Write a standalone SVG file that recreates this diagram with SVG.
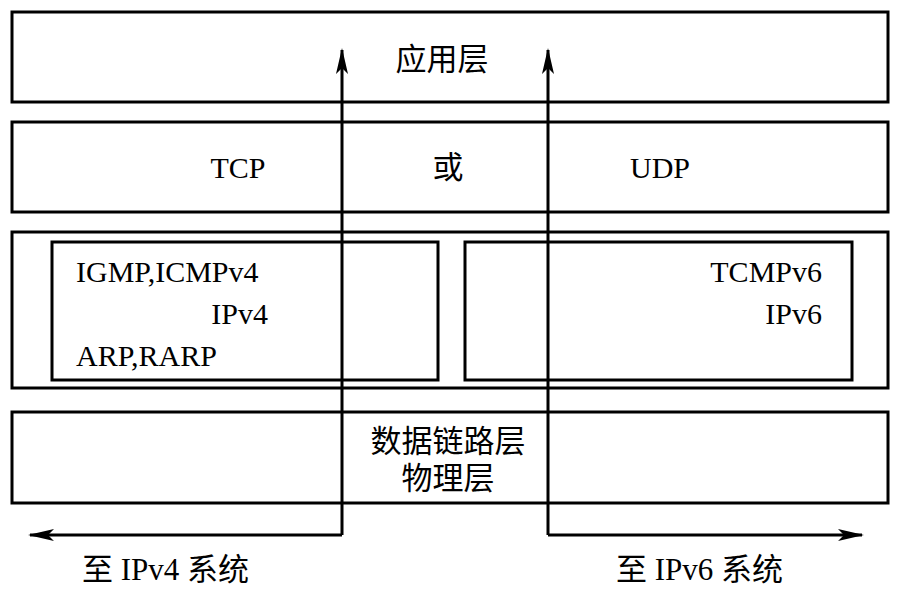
<svg xmlns="http://www.w3.org/2000/svg" width="900" height="598" viewBox="0 0 900 598">
<style>
.box{fill:none;stroke:#000;stroke-width:3}
.t{font-family:"Liberation Serif","Times New Roman","DejaVu Serif",serif;font-size:30px;fill:#000}
.c{font-family:"Liberation Serif","DejaVu Serif","Noto Sans CJK SC",serif;font-size:31px;fill:#000}
.ln{fill:none;stroke:#000;stroke-width:3}
</style>
<defs>
<marker id="ah" viewBox="0 0 26 12" refX="24" refY="6" markerWidth="26" markerHeight="12" markerUnits="userSpaceOnUse" orient="auto">
<path d="M0,0 L26,6 L0,12 L6,6 Z" fill="#000"/>
</marker>
</defs>
<rect width="900" height="598" fill="#fff"/>
<g id="app"><rect class="box" x="12" y="12" width="876" height="90"/><text class="c" x="442" y="70" text-anchor="middle">应用层</text></g>
<g id="transport"><rect class="box" x="12" y="122" width="876" height="90"/>
<text class="t" x="238" y="178" text-anchor="middle">TCP</text>
<text class="c" x="448" y="178" text-anchor="middle">或</text>
<text class="t" x="660" y="178" text-anchor="middle">UDP</text></g>
<g id="network"><rect class="box" x="12" y="232" width="876" height="156"/></g>
<g id="ipv4"><rect class="box" x="52" y="242" width="386" height="138"/>
<text class="t" x="76" y="282">IGMP,ICMPv4</text>
<text class="t" x="268" y="324" text-anchor="end">IPv4</text>
<text class="t" x="76" y="366">ARP,RARP</text></g>
<g id="ipv6"><rect class="box" x="465" y="242" width="387" height="138"/>
<text class="t" x="822" y="282" text-anchor="end">TCMPv6</text>
<text class="t" x="822" y="324" text-anchor="end">IPv6</text></g>
<g id="link"><rect class="box" x="12" y="412" width="876" height="91"/>
<text class="c" x="448" y="452" text-anchor="middle">数据链路层</text>
<text class="c" x="448" y="489" text-anchor="middle">物理层</text></g>
<g id="connectors">
<path class="ln" d="M342,535 L342,50" marker-end="url(#ah)"/>
<path class="ln" d="M342,535 L30,535" marker-end="url(#ah)"/>
<path class="ln" d="M548,535 L548,50" marker-end="url(#ah)"/>
<path class="ln" d="M548,535 L862,535" marker-end="url(#ah)"/>
</g>
<text class="c" x="82" y="580">至 IPv4 系统</text>
<text class="c" x="616" y="580">至 IPv6 系统</text>
</svg>
